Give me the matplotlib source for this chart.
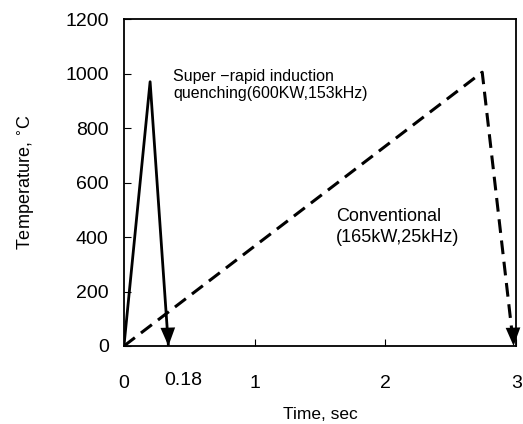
import matplotlib.pyplot as plt

plt.rcParams['font.family'] = ['Liberation Sans', 'DejaVu Sans']

# datos
t_rapido = [0.0, 0.20, 0.34]
T_rapido = [0, 970, 0]
t_conv = [0.0, 2.74, 2.98]
T_conv = [0, 1005, 0]
xticks = [0, 1, 2, 3]
yticks = [0, 200, 400, 600, 800, 1000, 1200]

fig = plt.figure(figsize=(5.23, 4.24), dpi=100)
ax = fig.add_axes([0.237, 0.184, 0.75, 0.771])

# curva super rapida (solida)
ax.plot(t_rapido, T_rapido, color="black", lw=2, solid_capstyle="butt")
ax.annotate("", xy=(t_rapido[2], T_rapido[2]),
            xytext=(t_rapido[2] - 0.01, T_rapido[2] + 150),
            arrowprops=dict(arrowstyle="-|>,head_length=0.55,head_width=0.22",
                            color="black", lw=0,
                            mutation_scale=24, shrinkA=0, shrinkB=0))

# curva convencional (discontinua)
ax.plot(t_conv, T_conv, color="black", lw=2.2, linestyle=(0, (4.5, 2.5)))
ax.annotate("", xy=(t_conv[2], T_conv[2]),
            xytext=(t_conv[2] - 0.01, T_conv[2] + 150),
            arrowprops=dict(arrowstyle="-|>,head_length=0.55,head_width=0.22",
                            color="black", lw=0,
                            mutation_scale=24, shrinkA=0, shrinkB=0))

ax.text(0.375, 958, "Super \u2212rapid induction\nquenching(600KW,153kHz)",
        fontsize=11.5, va="center", ha="left", linespacing=1.15)
ax.text(1.62, 437, "Conventional\n(165kW,25kHz)",
        fontsize=13, va="center", ha="left", linespacing=1.3)

ax.set_xlim(0, 3)
ax.set_ylim(0, 1200)
ax.set_xticks(xticks)
ax.set_yticks(yticks)
ax.tick_params(axis="x", direction="in", length=5, pad=21, labelsize=14)
ax.tick_params(axis="y", direction="in", length=5, pad=11, labelsize=14)
ax.text(0.45, -0.08, "0.18", transform=ax.get_xaxis_transform(),
        fontsize=14, ha="center", va="top")
for s in ax.spines.values():
    s.set_linewidth(1.3)

ax.set_xlabel("Time, sec", fontsize=12.5, labelpad=11)
ax.set_ylabel("Temperature, $^{\\circ}$C", fontsize=13, labelpad=20)

fig.savefig("out.png", dpi=100)
